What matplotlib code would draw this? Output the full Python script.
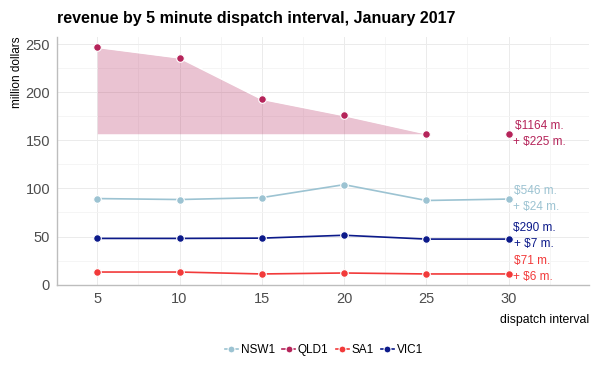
import matplotlib
matplotlib.use("Agg")
import matplotlib.pyplot as plt
from matplotlib.ticker import MultipleLocator
from matplotlib.lines import Line2D
import numpy as np

# values
interval = [5, 10, 15, 20, 25, 30]
regions = ["NSW1", "QLD1", "SA1", "VIC1"]
revenue = {
    "NSW1": [89.5, 88.5, 90.5, 104, 87.5, 89],
    "QLD1": [247, 236, 193, 176, 157, 157],
    "SA1": [13, 13, 11, 12, 11, 11],
    "VIC1": [48, 48, 48.3, 51.3, 47.3, 47.3],
}
totals = {"NSW1": "$546 m.\n+ $24 m.", "QLD1": "$1164 m.\n+ $225 m.",
          "SA1": "$71 m.\n+ $6 m.", "VIC1": "$290 m.\n+ $7 m."}
colors = {"NSW1": "#9cc3d2", "QLD1": "#b5245a", "SA1": "#f23a3a", "VIC1": "#0c1a8a"}
label_offset = {"NSW1": 0, "QLD1": 0, "SA1": 5, "VIC1": 3}

plt.rcParams['font.family'] = ['Liberation Sans', 'DejaVu Sans']

fig = plt.figure(figsize=(6, 3.75), dpi=100)
ax = fig.add_axes([0.095, 0.24, 0.887, 0.662])

qld = np.array(revenue["QLD1"])
ax.fill_between(interval[:5], qld[:5], qld.min(), color=colors["QLD1"],
                alpha=0.27, linewidth=0, zorder=1)

handles = []
for r in regions:
    # QLD1 line sits on the shaded area, drawn white like the reference
    line_col = "white" if r == "QLD1" else colors[r]
    ax.plot(interval, revenue[r], color=line_col, lw=1.2, zorder=2)
    ax.plot(interval, revenue[r], ls="none", color=colors[r], marker="o", ms=5.5,
            mec="white", mew=0.8, zorder=3)
    handles.append(Line2D([], [], color=colors[r], lw=1.2, marker="o", ms=5,
                          mec="white", mew=0.8, label=r))
    ax.text(interval[-1] + 0.25, revenue[r][-1] + label_offset[r], totals[r],
            color=colors[r], fontsize=8.5, ha="left", va="center",
            multialignment="center", linespacing=1.45)

ax.set_xlim(2.55, 34.9)
ax.set_ylim(-0.5, 258)
ax.xaxis.set_major_locator(MultipleLocator(5))
ax.xaxis.set_minor_locator(MultipleLocator(2.5))
ax.yaxis.set_major_locator(MultipleLocator(50))
ax.yaxis.set_minor_locator(MultipleLocator(25))
ax.grid(which="major", color="#ebebeb", lw=0.7)
ax.grid(which="minor", color="#f4f4f4", lw=0.6)
ax.set_axisbelow(True)
for s in ["top", "right"]:
    ax.spines[s].set_visible(False)
for s in ["left", "bottom"]:
    ax.spines[s].set_color("#bdbdbd")
    ax.spines[s].set_linewidth(1)
ax.tick_params(which="both", length=0, labelsize=10.5, labelcolor="#4d4d4d", pad=5)

ax.set_ylabel("million dollars", fontsize=8.5)
ax.yaxis.set_label_coords(-0.064, 1.0)
ax.yaxis.label.set_horizontalalignment("right")
ax.set_xlabel("dispatch interval", fontsize=8.8)
ax.xaxis.set_label_coords(1.0, -0.115)
ax.xaxis.label.set_horizontalalignment("right")
ax.set_title("revenue by 5 minute dispatch interval, January 2017",
             fontsize=11.5, fontweight="bold", loc="left", x=0.0, pad=10)

fig.legend(handles=handles, loc="center", bbox_to_anchor=(0.54, 0.067), ncol=4,
           frameon=False, fontsize=8.5, handlelength=1.1, handletextpad=0.25,
           columnspacing=0.6)

fig.savefig("out.png", dpi=100)
